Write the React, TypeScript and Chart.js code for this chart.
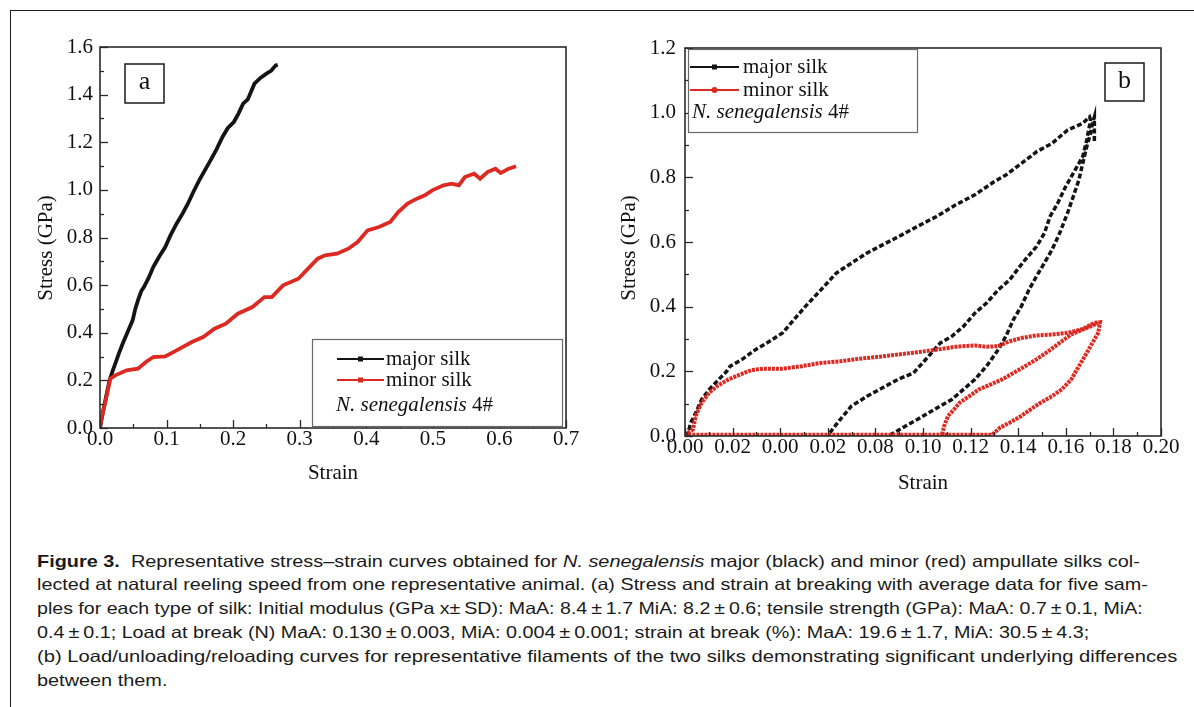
import React, { useEffect, useRef } from 'react';
import { Chart, registerables } from 'chart.js';

Chart.register(...registerables);

// ---------- Panel a: stress–strain to break ----------
const majorStrainA = [0, 0.004, 0.009, 0.0143, 0.019, 0.023, 0.028, 0.034, 0.041, 0.049, 0.053, 0.057, 0.062, 0.066, 0.073, 0.080, 0.089, 0.098, 0.106, 0.115, 0.124, 0.132, 0.140, 0.149, 0.157, 0.166, 0.175, 0.184, 0.192, 0.201, 0.208, 0.215, 0.222, 0.232, 0.241, 0.250, 0.257, 0.264, 0.267];
const majorStressA = [0, 0.06, 0.13, 0.2, 0.24, 0.27, 0.31, 0.354, 0.40, 0.452, 0.50, 0.536, 0.575, 0.592, 0.63, 0.676, 0.72, 0.76, 0.81, 0.858, 0.90, 0.942, 0.99, 1.04, 1.08, 1.124, 1.17, 1.222, 1.26, 1.285, 1.32, 1.362, 1.38, 1.446, 1.47, 1.488, 1.50, 1.523, 1.525];

const minorStrainA = [0, 0.003, 0.0086, 0.0155, 0.023, 0.040, 0.057, 0.069, 0.080, 0.098, 0.115, 0.138, 0.155, 0.172, 0.189, 0.207, 0.229, 0.247, 0.258, 0.275, 0.298, 0.310, 0.327, 0.338, 0.356, 0.373, 0.387, 0.402, 0.419, 0.436, 0.448, 0.462, 0.476, 0.488, 0.499, 0.516, 0.528, 0.539, 0.548, 0.562, 0.571, 0.582, 0.594, 0.602, 0.614, 0.625];
const minorStressA = [0, 0.05, 0.116, 0.207, 0.221, 0.242, 0.249, 0.277, 0.298, 0.301, 0.326, 0.361, 0.382, 0.417, 0.438, 0.480, 0.508, 0.550, 0.550, 0.599, 0.627, 0.662, 0.711, 0.725, 0.732, 0.753, 0.781, 0.830, 0.844, 0.865, 0.907, 0.942, 0.963, 0.977, 0.998, 1.019, 1.026, 1.019, 1.054, 1.068, 1.047, 1.075, 1.089, 1.071, 1.089, 1.099];

const xTicksA = [0, 0.1, 0.2, 0.3, 0.4, 0.5, 0.6, 0.7];
const xTickLabelsA = ['0.0', '0.1', '0.2', '0.3', '0.4', '0.5', '0.6', '0.7'];
const xMinorA = [0.05, 0.15, 0.25, 0.35, 0.45, 0.55, 0.65];
const yTicksA = [0, 0.2, 0.4, 0.6, 0.8, 1.0, 1.2, 1.4, 1.6];
const yTickLabelsA = ['0.0', '0.2', '0.4', '0.6', '0.8', '1.0', '1.2', '1.4', '1.6'];
const yMinorA = [0.1, 0.3, 0.5, 0.7, 0.9, 1.1, 1.3, 1.5];

// ---------- Panel b: loading / unloading / reloading ----------
// major silk: loading, then unloading
const majorStrainB1 = [0, 0.0013, 0.0024, 0.0045, 0.007, 0.0102, 0.0142, 0.0175, 0.019, 0.024, 0.0296, 0.0345, 0.041, 0.0458, 0.0506, 0.0571, 0.0636, 0.070, 0.0765, 0.083, 0.0911, 0.0976, 0.1057, 0.1138, 0.1218, 0.130, 0.1348, 0.1413, 0.1477, 0.1542, 0.1607, 0.1671, 0.170,
  0.1704, 0.1688, 0.1671, 0.1647, 0.1623, 0.1599, 0.1566, 0.1534, 0.151, 0.1477, 0.1429, 0.1396, 0.1364, 0.1316, 0.1267, 0.1218, 0.117, 0.1121, 0.1073, 0.1024, 0.096, 0.0895, 0.083, 0.0765, 0.070, 0.0652, 0.062, 0.0604];
const majorStressB1 = [0, 0.010, 0.041, 0.072, 0.113, 0.144, 0.175, 0.200, 0.216, 0.237, 0.267, 0.288, 0.319, 0.360, 0.401, 0.452, 0.504, 0.535, 0.566, 0.591, 0.622, 0.648, 0.679, 0.715, 0.746, 0.787, 0.807, 0.843, 0.879, 0.905, 0.946, 0.967, 0.987,
  0.977, 0.915, 0.864, 0.833, 0.802, 0.771, 0.720, 0.679, 0.627, 0.586, 0.545, 0.514, 0.483, 0.452, 0.411, 0.380, 0.339, 0.308, 0.288, 0.247, 0.195, 0.175, 0.149, 0.123, 0.093, 0.051, 0.021, 0.005];
// major silk: reloading
const majorStrainB2 = [0.0860, 0.0879, 0.0927, 0.0976, 0.1024, 0.1073, 0.1121, 0.117, 0.1218, 0.1267, 0.1316, 0.1348, 0.138, 0.1413, 0.1445, 0.1477, 0.151, 0.1542, 0.1574, 0.1607, 0.1631, 0.1655, 0.1671, 0.1688, 0.1704, 0.1712, 0.172, 0.172];
const majorStressB2 = [0.003, 0.010, 0.031, 0.051, 0.072, 0.093, 0.113, 0.144, 0.175, 0.216, 0.267, 0.308, 0.360, 0.401, 0.452, 0.494, 0.535, 0.576, 0.627, 0.689, 0.740, 0.792, 0.843, 0.895, 0.936, 0.967, 0.987, 0.905];
// minor silk: loading, unloading, return at zero stress
const minorStrainB1 = [0, 0.0005, 0.0034, 0.0045, 0.007, 0.0102, 0.0134, 0.0183, 0.0231, 0.028, 0.0328, 0.041, 0.049, 0.0571, 0.0652, 0.0733, 0.0814, 0.0895, 0.0976, 0.1057, 0.1138, 0.1218, 0.1267, 0.1316, 0.1364, 0.1413, 0.1477, 0.1542, 0.1607, 0.1671, 0.172, 0.1744,
  0.1736, 0.1712, 0.1688, 0.1655, 0.1623, 0.1583, 0.1542, 0.1494, 0.1461, 0.1413, 0.1364, 0.1324, 0.130, 0.129, 0.100, 0.060, 0.020, 0.001];
const minorStressB1 = [0, 0.005, 0.021, 0.062, 0.103, 0.134, 0.154, 0.175, 0.190, 0.204, 0.208, 0.208, 0.216, 0.226, 0.231, 0.239, 0.245, 0.252, 0.259, 0.267, 0.276, 0.280, 0.276, 0.278, 0.293, 0.303, 0.311, 0.314, 0.319, 0.331, 0.350, 0.352,
  0.319, 0.288, 0.257, 0.216, 0.175, 0.144, 0.123, 0.103, 0.087, 0.062, 0.041, 0.026, 0.010, 0.004, 0.004, 0.004, 0.004, 0.004];
// minor silk: reloading
const minorStrainB2 = [0.108, 0.1089, 0.1105, 0.113, 0.1154, 0.1194, 0.1235, 0.1283, 0.1332, 0.138, 0.1429, 0.1477, 0.1526, 0.1574, 0.1623, 0.1671, 0.172, 0.1735];
const minorStressB2 = [0.004, 0.031, 0.062, 0.082, 0.103, 0.123, 0.144, 0.159, 0.175, 0.195, 0.216, 0.237, 0.262, 0.288, 0.314, 0.329, 0.344, 0.350];

const xTicksB = [0, 0.02, 0.04, 0.06, 0.08, 0.10, 0.12, 0.14, 0.16, 0.18, 0.20];
const xTickLabelsB = ['0.00', '0.02', '0.00', '0.02', '0.08', '0.10', '0.12', '0.14', '0.16', '0.18', '0.20'];
const xMinorB = [0.01, 0.03, 0.05, 0.07, 0.09, 0.11, 0.13, 0.15, 0.17, 0.19];
const yTicksB = [0, 0.2, 0.4, 0.6, 0.8, 1.0, 1.2];
const yTickLabelsB = ['0.0', '0.2', '0.4', '0.6', '0.8', '1.0', '1.2'];
const yMinorB = [0.1, 0.3, 0.5, 0.7, 0.9, 1.1];

const seriesNames = ['major silk', 'minor silk'];
const speciesName = 'N. senegalensis';
const speciesTag = '4#';

const BLACK = '#141414';
const RED = '#dc2a22';
const SERIF = '"Liberation Serif", "Times New Roman", serif';

const pts = (xs: number[], ys: number[]) => xs.map((x, i) => ({ x, y: ys[i] }));

const panelPlugin = {
  id: 'panel',
  afterDraw(chart: any) {
    const o = chart.options.plugins.panel;
    const { ctx, chartArea: a } = chart;
    const xs = chart.scales.x;
    const ys = chart.scales.y;
    ctx.save();
    // inner ticks
    ctx.strokeStyle = '#2a2a2a';
    ctx.lineWidth = 1.3;
    const vt = (vals: number[], len: number) => vals.forEach((v) => {
      const p = Math.round(xs.getPixelForValue(v)) + 0.5;
      ctx.beginPath(); ctx.moveTo(p, a.bottom); ctx.lineTo(p, a.bottom - len); ctx.stroke();
    });
    const ht = (vals: number[], len: number) => vals.forEach((v) => {
      const p = Math.round(ys.getPixelForValue(v)) + 0.5;
      ctx.beginPath(); ctx.moveTo(a.left, p); ctx.lineTo(a.left + len, p); ctx.stroke();
    });
    vt(o.xMajor, 8); vt(o.xMinor, 4); ht(o.yMajor, 8); ht(o.yMinor, 4);
    // plot frame
    ctx.lineWidth = 1.6;
    ctx.strokeRect(a.left, a.top, a.right - a.left, a.bottom - a.top);

    // axis titles
    ctx.fillStyle = '#111';
    ctx.font = `21px ${SERIF}`;
    ctx.textAlign = 'center';
    ctx.textBaseline = 'middle';
    ctx.fillText(o.xTitle, (a.left + a.right) / 2, a.bottom + o.xTitleDy);
    ctx.save();
    ctx.translate(a.left + o.yTitleDx, a.top + o.yTitleDy);
    ctx.rotate(-Math.PI / 2);
    ctx.fillText(o.yTitle, 0, 0);
    ctx.restore();

    // panel letter box
    const lb = o.letterBox;
    ctx.lineWidth = 1.5;
    ctx.strokeStyle = '#1a1a1a';
    ctx.fillStyle = '#fff';
    ctx.fillRect(a.left + lb.dx, a.top + lb.dy, lb.w, lb.h);
    ctx.strokeRect(a.left + lb.dx, a.top + lb.dy, lb.w, lb.h);
    ctx.fillStyle = '#111';
    ctx.font = `26px ${SERIF}`;
    ctx.fillText(o.letter, a.left + lb.dx + lb.w / 2, a.top + lb.dy + lb.h / 2 - 1);

    // legend
    const lg = o.legend;
    const bx = a.left + lg.dx, by = a.top + lg.dy;
    ctx.fillStyle = '#fff';
    ctx.fillRect(bx, by, lg.w, lg.h);
    ctx.strokeStyle = '#6a6a6a';
    ctx.lineWidth = 1.2;
    ctx.strokeRect(bx + 0.5, by + 0.5, lg.w, lg.h);
    lg.items.forEach((it: any, i: number) => {
      const y = by + lg.rows[i];
      ctx.strokeStyle = it.color;
      ctx.lineWidth = 2;
      ctx.beginPath(); ctx.moveTo(bx + lg.lineX0, y); ctx.lineTo(bx + lg.lineX1, y); ctx.stroke();
      ctx.fillStyle = it.color;
      const mx = bx + (lg.lineX0 + lg.lineX1) / 2;
      if (it.marker === 'circle') {
        ctx.beginPath(); ctx.arc(mx, y, 3, 0, Math.PI * 2); ctx.fill();
      } else {
        ctx.fillRect(mx - 2.5, y - 2.5, 5, 5);
      }
      ctx.fillStyle = '#111';
      ctx.font = `21px ${SERIF}`;
      ctx.textAlign = 'left';
      ctx.fillText(it.label, bx + lg.textX, y);
    });
    const ny = by + lg.rows[2];
    ctx.font = `italic 21px ${SERIF}`;
    ctx.textAlign = 'left';
    ctx.fillText(o.species + ' ', bx + lg.speciesX, ny);
    const w = ctx.measureText(o.species + ' ').width;
    ctx.font = `21px ${SERIF}`;
    ctx.fillText(o.tag, bx + lg.speciesX + w, ny);
    ctx.restore();
  },
};

function axis(min: number, max: number, ticks: number[], labels: string[], pad: number, size: number, isX: boolean) {
  return {
    type: 'linear',
    min,
    max,
    afterBuildTicks: (s: any) => { s.ticks = ticks.map((v) => ({ value: v })); },
    afterFit: (s: any) => { if (isX) s.height = size; else s.width = size; },
    ticks: {
      autoSkip: false,
      maxRotation: 0,
      padding: pad,
      color: '#111',
      font: { family: SERIF, size: 21, lineHeight: 1 },
      callback: (_v: any, i: number) => labels[i],
    },
    grid: { display: false, drawTicks: false },
    border: { display: false },
  };
}

function PanelChart(props: { width: number; height: number; left: number; top: number; config: any }) {
  const ref = useRef<HTMLCanvasElement>(null);
  useEffect(() => {
    if (!ref.current) return;
    const chart = new Chart(ref.current, props.config);
    return () => chart.destroy();
  }, []);
  return (
    <canvas
      ref={ref}
      width={props.width}
      height={props.height}
      style={{ position: 'absolute', left: props.left, top: props.top, width: props.width, height: props.height }}
    />
  );
}

const configA = {
  type: 'scatter',
  data: {
    datasets: [
      { label: seriesNames[1], data: pts(minorStrainA, minorStressA), showLine: true, borderColor: RED, borderWidth: 3.8, pointRadius: 0, order: 0 },
      { label: seriesNames[0], data: pts(majorStrainA, majorStressA), showLine: true, borderColor: BLACK, borderWidth: 3.8, pointRadius: 0, order: 1 },
    ],
  },
  options: {
    animation: false,
    responsive: false,
    layout: { padding: { top: 33, left: 18, right: 24, bottom: 16 } },
    scales: {
      x: axis(0, 0.7, xTicksA, xTickLabelsA, 1, 60, true),
      y: axis(0, 1.6, yTicksA, yTickLabelsA, 7, 70, false),
    },
    plugins: {
      legend: { display: false },
      tooltip: { enabled: false },
      panel: {
        xMajor: xTicksA, xMinor: xMinorA, yMajor: yTicksA, yMinor: yMinorA,
        xTitle: 'Strain', yTitle: 'Stress (GPa)',
        xTitleDy: 45, yTitleDx: -54, yTitleDy: 201,
        letter: 'a', letterBox: { dx: 25, dy: 17, w: 39, h: 39 },
        species: speciesName, tag: speciesTag,
        legend: {
          dx: 212, dy: 292, w: 250, h: 87,
          lineX0: 25, lineX1: 72, textX: 74, speciesX: 24,
          rows: [20, 41, 66],
          items: [
            { label: seriesNames[0], color: BLACK, marker: 'square' },
            { label: seriesNames[1], color: RED, marker: 'square' },
          ],
        },
      },
    },
  },
  plugins: [panelPlugin],
};

const configB = {
  type: 'scatter',
  data: {
    datasets: [
      { label: seriesNames[1], data: pts(minorStrainB1, minorStressB1), showLine: true, borderColor: RED, borderWidth: 4, borderDash: [3, 1], pointRadius: 0, order: 0 },
      { label: seriesNames[1], data: pts(minorStrainB2, minorStressB2), showLine: true, borderColor: RED, borderWidth: 4, borderDash: [3, 1], pointRadius: 0, order: 0 },
      { label: seriesNames[0], data: pts(majorStrainB1, majorStressB1), showLine: true, borderColor: BLACK, borderWidth: 3.5, borderDash: [5, 2.5], pointRadius: 0, order: 1 },
      { label: seriesNames[0], data: pts(majorStrainB2, majorStressB2), showLine: true, borderColor: BLACK, borderWidth: 3.5, borderDash: [5, 2.5], pointRadius: 0, order: 1 },
    ],
  },
  options: {
    animation: false,
    responsive: false,
    layout: { padding: { top: 34, left: 19, right: 29, bottom: 13 } },
    scales: {
      x: axis(0, 0.2, xTicksB, xTickLabelsB, 1, 55, true),
      y: axis(0, 1.2, yTicksB, yTickLabelsB, 9, 70, false),
    },
    plugins: {
      legend: { display: false },
      tooltip: { enabled: false },
      panel: {
        xMajor: xTicksB, xMinor: xMinorB, yMajor: yTicksB, yMinor: yMinorB,
        xTitle: 'Strain', yTitle: 'Stress (GPa)',
        xTitleDy: 47, yTitleDx: -56, yTitleDy: 200,
        letter: 'b', letterBox: { dx: 420, dy: 15, w: 39, h: 38 },
        species: speciesName, tag: speciesTag,
        legend: {
          dx: 3, dy: 1, w: 229, h: 83,
          lineX0: 2, lineX1: 51, textX: 55, speciesX: 4,
          rows: [18, 41, 63],
          items: [
            { label: seriesNames[0], color: BLACK, marker: 'square' },
            { label: seriesNames[1], color: RED, marker: 'circle' },
          ],
        },
      },
    },
  },
  plugins: [panelPlugin],
};

const pm = '\u2009\u00b1\u2009';
const captionScale = [1.205, 1.198, 1.187, 1.197, 1.223, 1.205];

export default function App() {
  const lineStyle: React.CSSProperties = {
    position: 'absolute', left: 37, whiteSpace: 'nowrap', height: 23.8, lineHeight: '23.8px',
    transformOrigin: '0 0',
  };
  const caption = [
    <>
      <b>Figure 3.</b>{'\u00a0 '}Representative stress–strain curves obtained for <i>N. senegalensis</i> major (black) and minor (red) ampullate silks col-
    </>,
    <>lected at natural reeling speed from one representative animal. (a) Stress and strain at breaking with average data for five sam-</>,
    <>{`ples for each type of silk: Initial modulus (GPa x±\u2009SD): MaA: 8.4${pm}1.7 MiA: 8.2${pm}0.6; tensile strength (GPa): MaA: 0.7${pm}0.1, MiA:`}</>,
    <>{`0.4${pm}0.1; Load at break (N) MaA: 0.130${pm}0.003, MiA: 0.004${pm}0.001; strain at break (%): MaA: 19.6${pm}1.7, MiA: 30.5${pm}4.3;`}</>,
    <>(b) Load/unloading/reloading curves for representative filaments of the two silks demonstrating significant underlying differences</>,
    <>between them.</>,
  ];
  return (
    <div style={{ position: 'absolute', left: 0, top: 0, width: 1194, height: 707, overflow: 'hidden', background: '#fff' }}>
      <div style={{ position: 'absolute', left: 10, top: 10, width: 1300, height: 800, borderTop: '1.5px solid #1e1e1e', borderLeft: '1.5px solid #1e1e1e' }} />
      <PanelChart left={12} top={14} width={578} height={490} config={configA} />
      <PanelChart left={596} top={14} width={594} height={490} config={configB} />
      <div style={{ position: 'absolute', left: 0, top: 0, fontFamily: '"Liberation Sans", Arial, Helvetica, sans-serif', fontSize: 16.5, color: '#1a1a1a' }}>
        {caption.map((c, i) => (
          <div key={i} style={{ ...lineStyle, top: 549.5 + i * 23.8, transform: `scaleX(${captionScale[i]})` }}>{c}</div>
        ))}
      </div>
    </div>
  );
}
